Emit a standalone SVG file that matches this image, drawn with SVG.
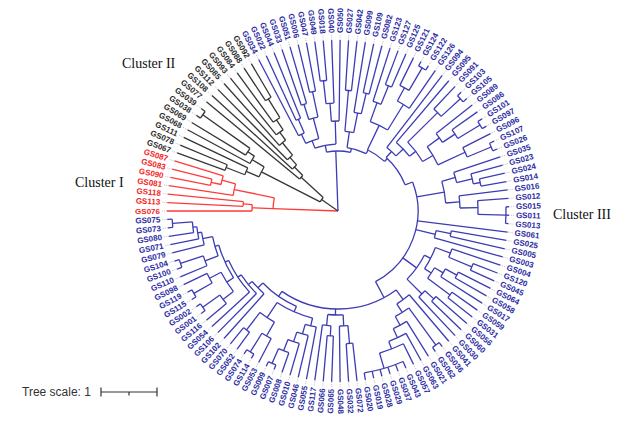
<svg xmlns="http://www.w3.org/2000/svg" width="628" height="422" viewBox="0 0 628 422">
<style>
#connectors line,#connectors circle{fill:none;stroke-width:1.3}
.cr{stroke:#ff3a3a}.ck{stroke:#363636}.cb{stroke:#3c3cb4}
#leaves text{font-family:"Liberation Sans",Arial,sans-serif;font-size:8px;font-weight:bold;dominant-baseline:central}
#leaves line{stroke:#b8b8b8;stroke-width:0.8;stroke-dasharray:1 1}
.r text{fill:#f52424}.k text{fill:#2b2b2b}.b text{fill:#2c2ca2}
.L text{text-anchor:end}
.cl{font-family:"Liberation Serif","Times New Roman",serif;font-size:14px;fill:#111}
</style>
<rect width="628" height="422" fill="#fff"/>
<g transform="translate(338,211)">
<g id="connectors">
<g class="cr">
<line x2="65" transform="rotate(182.13)"/>
<circle r="65" pathLength="127" stroke-dasharray="3.375 300" transform="rotate(182.13)"/>
<line x1="65" x2="86" transform="rotate(182.13)"/>
<circle r="86" pathLength="127" stroke-dasharray="1.5 300" transform="rotate(180)"/>
<line x1="86" x2="95" transform="rotate(184.25)"/>
<circle r="95" pathLength="127" stroke-dasharray="1 300" transform="rotate(182.83)"/>
<line x1="65" x2="106" transform="rotate(191.69)"/>
<circle r="106" pathLength="127" stroke-dasharray="2.25 300" transform="rotate(188.5)"/>
<line x1="106" x2="120" transform="rotate(194.88)"/>
<circle r="120" pathLength="127" stroke-dasharray="1.5 300" transform="rotate(192.76)"/>
<line x1="120" x2="130" transform="rotate(192.76)"/>
<circle r="130" pathLength="127" stroke-dasharray="1 300" transform="rotate(191.34)"/>
<line x1="86" x2="171" transform="rotate(180)"/>
<line x1="95" x2="171" transform="rotate(182.83)"/>
<line x1="95" x2="171" transform="rotate(185.67)"/>
<line x1="106" x2="171" transform="rotate(188.5)"/>
<line x1="130" x2="171" transform="rotate(191.34)"/>
<line x1="130" x2="171" transform="rotate(194.17)"/>
<line x1="120" x2="171" transform="rotate(197.01)"/>
</g>
<g class="ck">
<line x2="20" transform="rotate(214.81)"/>
<circle r="20" pathLength="127" stroke-dasharray="5.43 300" transform="rotate(207.11)"/>
<line x1="20" x2="50" transform="rotate(222.5)"/>
<circle r="50" pathLength="127" stroke-dasharray="1.985 300" transform="rotate(219.69)"/>
<line x1="50" x2="62" transform="rotate(225.31)"/>
<circle r="62" pathLength="127" stroke-dasharray="1.97 300" transform="rotate(222.52)"/>
<line x1="62" x2="72" transform="rotate(228.1)"/>
<circle r="72" pathLength="127" stroke-dasharray="1.94 300" transform="rotate(225.35)"/>
<line x1="72" x2="88" transform="rotate(230.85)"/>
<circle r="88" pathLength="127" stroke-dasharray="1.875 300" transform="rotate(228.19)"/>
<line x1="88" x2="98" transform="rotate(233.5)"/>
<circle r="98" pathLength="127" stroke-dasharray="1.75 300" transform="rotate(231.02)"/>
<line x1="98" x2="110" transform="rotate(235.98)"/>
<circle r="110" pathLength="127" stroke-dasharray="1.5 300" transform="rotate(233.86)"/>
<line x1="110" x2="132" transform="rotate(238.11)"/>
<circle r="132" pathLength="127" stroke-dasharray="1 300" transform="rotate(236.69)"/>
<line x1="20" x2="86" transform="rotate(207.11)"/>
<circle r="86" pathLength="127" stroke-dasharray="2.625 300" transform="rotate(203.39)"/>
<line x1="86" x2="100" transform="rotate(203.39)"/>
<circle r="100" pathLength="127" stroke-dasharray="1.5 300" transform="rotate(201.26)"/>
<line x1="100" x2="120" transform="rotate(201.26)"/>
<circle r="120" pathLength="127" stroke-dasharray="1 300" transform="rotate(199.84)"/>
<line x1="86" x2="100" transform="rotate(210.83)"/>
<circle r="100" pathLength="127" stroke-dasharray="1.75 300" transform="rotate(208.35)"/>
<line x1="100" x2="108" transform="rotate(213.31)"/>
<circle r="108" pathLength="127" stroke-dasharray="1.5 300" transform="rotate(211.18)"/>
<line x1="108" x2="166" transform="rotate(215.43)"/>
<circle r="166" pathLength="127" stroke-dasharray="1 300" transform="rotate(214.02)"/>
<line x1="120" x2="171" transform="rotate(199.84)"/>
<line x1="120" x2="171" transform="rotate(202.68)"/>
<line x1="100" x2="171" transform="rotate(205.51)"/>
<line x1="100" x2="171" transform="rotate(208.35)"/>
<line x1="108" x2="171" transform="rotate(211.18)"/>
<line x1="166" x2="171" transform="rotate(214.02)"/>
<line x1="166" x2="171" transform="rotate(216.85)"/>
<line x1="50" x2="171" transform="rotate(219.69)"/>
<line x1="62" x2="171" transform="rotate(222.52)"/>
<line x1="72" x2="171" transform="rotate(225.35)"/>
<line x1="88" x2="171" transform="rotate(228.19)"/>
<line x1="98" x2="171" transform="rotate(231.02)"/>
<line x1="110" x2="171" transform="rotate(233.86)"/>
<line x1="132" x2="171" transform="rotate(236.69)"/>
<line x1="132" x2="171" transform="rotate(239.53)"/>
</g>
<g class="cb">
<line x2="60" transform="rotate(267.87)"/>
<circle r="60" pathLength="127" stroke-dasharray="8.125 300" transform="rotate(259.02)"/>
<line x1="60" x2="67" transform="rotate(259.02)"/>
<circle r="67" pathLength="127" stroke-dasharray="6.5 300" transform="rotate(249.8)"/>
<line x1="67" x2="75" transform="rotate(249.8)"/>
<circle r="75" pathLength="127" stroke-dasharray="3.75 300" transform="rotate(244.49)"/>
<line x1="75" x2="85" transform="rotate(244.49)"/>
<circle r="85" pathLength="127" stroke-dasharray="1.5 300" transform="rotate(242.36)"/>
<line x1="85" x2="100" transform="rotate(246.61)"/>
<circle r="100" pathLength="127" stroke-dasharray="1 300" transform="rotate(245.2)"/>
<line x1="75" x2="96" transform="rotate(255.12)"/>
<circle r="96" pathLength="127" stroke-dasharray="2 300" transform="rotate(252.28)"/>
<line x1="96" x2="112" transform="rotate(252.28)"/>
<circle r="112" pathLength="127" stroke-dasharray="1 300" transform="rotate(250.87)"/>
<line x1="96" x2="122" transform="rotate(257.95)"/>
<circle r="122" pathLength="127" stroke-dasharray="1 300" transform="rotate(256.54)"/>
<line x1="67" x2="90" transform="rotate(268.23)"/>
<circle r="90" pathLength="127" stroke-dasharray="1.75 300" transform="rotate(265.75)"/>
<line x1="90" x2="108" transform="rotate(265.75)"/>
<circle r="108" pathLength="127" stroke-dasharray="1.5 300" transform="rotate(263.62)"/>
<line x1="108" x2="131" transform="rotate(263.62)"/>
<circle r="131" pathLength="127" stroke-dasharray="1 300" transform="rotate(262.2)"/>
<line x1="60" x2="64" transform="rotate(282.05)"/>
<circle r="64" pathLength="127" stroke-dasharray="6.375 300" transform="rotate(278.15)"/>
<line x1="64" x2="80" transform="rotate(278.15)"/>
<circle r="80" pathLength="127" stroke-dasharray="2.25 300" transform="rotate(274.96)"/>
<line x1="80" x2="121" transform="rotate(274.96)"/>
<circle r="121" pathLength="127" stroke-dasharray="1 300" transform="rotate(273.54)"/>
<line x1="80" x2="100" transform="rotate(281.34)"/>
<circle r="100" pathLength="127" stroke-dasharray="1.5 300" transform="rotate(279.21)"/>
<line x1="100" x2="121" transform="rotate(283.46)"/>
<circle r="121" pathLength="127" stroke-dasharray="1 300" transform="rotate(282.05)"/>
<line x1="64" x2="68" transform="rotate(296.22)"/>
<circle r="68" pathLength="127" stroke-dasharray="6.1875 300" transform="rotate(295.69)"/>
<line x1="68" x2="95" transform="rotate(295.69)"/>
<circle r="95" pathLength="127" stroke-dasharray="4.125 300" transform="rotate(289.84)"/>
<line x1="95" x2="115" transform="rotate(289.84)"/>
<circle r="115" pathLength="127" stroke-dasharray="1.5 300" transform="rotate(287.72)"/>
<line x1="115" x2="135" transform="rotate(291.97)"/>
<circle r="135" pathLength="127" stroke-dasharray="1 300" transform="rotate(290.55)"/>
<line x1="95" x2="125" transform="rotate(301.54)"/>
<circle r="125" pathLength="127" stroke-dasharray="2.25 300" transform="rotate(298.35)"/>
<line x1="125" x2="140" transform="rotate(298.35)"/>
<circle r="140" pathLength="127" stroke-dasharray="1.5 300" transform="rotate(296.22)"/>
<line x1="140" x2="166" transform="rotate(300.47)"/>
<circle r="166" pathLength="127" stroke-dasharray="1 300" transform="rotate(299.06)"/>
<line x1="68" x2="72" transform="rotate(313.23)"/>
<circle r="72" pathLength="127" stroke-dasharray="9.43 300" transform="rotate(312.01)"/>
<line x1="72" x2="80" transform="rotate(312.01)"/>
<circle r="80" pathLength="127" stroke-dasharray="3.14 300" transform="rotate(307.56)"/>
<line x1="80" x2="90" transform="rotate(316.46)"/>
<circle r="90" pathLength="127" stroke-dasharray="4.28 300" transform="rotate(310.39)"/>
<line x1="90" x2="98" transform="rotate(322.53)"/>
<circle r="98" pathLength="127" stroke-dasharray="5.0625 300" transform="rotate(315.35)"/>
<line x1="98" x2="140" transform="rotate(315.35)"/>
<circle r="140" pathLength="127" stroke-dasharray="1.5 300" transform="rotate(313.23)"/>
<line x1="140" x2="166" transform="rotate(317.48)"/>
<circle r="166" pathLength="127" stroke-dasharray="1 300" transform="rotate(316.06)"/>
<line x1="98" x2="110" transform="rotate(329.7)"/>
<circle r="110" pathLength="127" stroke-dasharray="3.875 300" transform="rotate(324.21)"/>
<line x1="110" x2="125" transform="rotate(324.21)"/>
<circle r="125" pathLength="127" stroke-dasharray="1.75 300" transform="rotate(321.73)"/>
<line x1="125" x2="140" transform="rotate(326.69)"/>
<circle r="140" pathLength="127" stroke-dasharray="1.5 300" transform="rotate(324.57)"/>
<line x1="140" x2="166" transform="rotate(328.82)"/>
<circle r="166" pathLength="127" stroke-dasharray="1 300" transform="rotate(327.4)"/>
<line x1="110" x2="140" transform="rotate(335.2)"/>
<circle r="140" pathLength="127" stroke-dasharray="1.5 300" transform="rotate(333.07)"/>
<line x1="140" x2="166" transform="rotate(337.32)"/>
<circle r="166" pathLength="127" stroke-dasharray="1 300" transform="rotate(335.91)"/>
<line x1="72" x2="80" transform="rotate(338.74)"/>
<circle r="80" pathLength="127" stroke-dasharray="29.37 300" transform="rotate(338.74)"/>
<line x1="80" x2="108" transform="rotate(349.9)"/>
<circle r="108" pathLength="127" stroke-dasharray="4.125 300" transform="rotate(344.05)"/>
<line x1="108" x2="122" transform="rotate(344.05)"/>
<circle r="122" pathLength="127" stroke-dasharray="1.75 300" transform="rotate(341.57)"/>
<line x1="122" x2="138" transform="rotate(346.53)"/>
<circle r="138" pathLength="127" stroke-dasharray="1.5 300" transform="rotate(344.41)"/>
<line x1="138" x2="145" transform="rotate(348.66)"/>
<circle r="145" pathLength="127" stroke-dasharray="1 300" transform="rotate(347.24)"/>
<line x1="108" x2="122" transform="rotate(355.75)"/>
<circle r="122" pathLength="127" stroke-dasharray="2 300" transform="rotate(352.91)"/>
<line x1="122" x2="140" transform="rotate(358.58)"/>
<circle r="140" pathLength="127" stroke-dasharray="2 300" transform="rotate(355.75)"/>
<line x1="140" x2="168" transform="rotate(361.42)"/>
<circle r="168" pathLength="127" stroke-dasharray="2 300" transform="rotate(358.58)"/>
<line x1="80" x2="100" transform="rotate(373.46)"/>
<circle r="100" pathLength="127" stroke-dasharray="1.5 300" transform="rotate(371.34)"/>
<line x1="100" x2="115" transform="rotate(371.34)"/>
<circle r="115" pathLength="127" stroke-dasharray="1 300" transform="rotate(369.92)"/>
<line x1="80" x2="97" transform="rotate(395.88)"/>
<circle r="97" pathLength="127" stroke-dasharray="6.19 300" transform="rotate(387.1)"/>
<line x1="97" x2="104" transform="rotate(387.1)"/>
<circle r="104" pathLength="127" stroke-dasharray="4.625 300" transform="rotate(380.55)"/>
<line x1="104" x2="120" transform="rotate(380.55)"/>
<circle r="120" pathLength="127" stroke-dasharray="1.5 300" transform="rotate(378.43)"/>
<line x1="120" x2="145" transform="rotate(382.68)"/>
<circle r="145" pathLength="127" stroke-dasharray="1 300" transform="rotate(381.26)"/>
<line x1="104" x2="112" transform="rotate(393.66)"/>
<circle r="112" pathLength="127" stroke-dasharray="2.25 300" transform="rotate(390.47)"/>
<line x1="112" x2="122" transform="rotate(390.47)"/>
<circle r="122" pathLength="127" stroke-dasharray="1.5 300" transform="rotate(388.35)"/>
<line x1="122" x2="135" transform="rotate(388.35)"/>
<circle r="135" pathLength="127" stroke-dasharray="1 300" transform="rotate(386.93)"/>
<line x1="112" x2="140" transform="rotate(396.85)"/>
<circle r="140" pathLength="127" stroke-dasharray="1 300" transform="rotate(395.43)"/>
<line x1="97" x2="118" transform="rotate(404.64)"/>
<circle r="118" pathLength="127" stroke-dasharray="1.5 300" transform="rotate(402.52)"/>
<line x1="118" x2="130" transform="rotate(402.52)"/>
<circle r="130" pathLength="127" stroke-dasharray="1 300" transform="rotate(401.1)"/>
<line x1="80" x2="98" transform="rotate(422)"/>
<circle r="98" pathLength="127" stroke-dasharray="25.13 300" transform="rotate(413.63)"/>
<line x1="98" x2="110" transform="rotate(413.63)"/>
<circle r="110" pathLength="127" stroke-dasharray="2.84 300" transform="rotate(409.61)"/>
<line x1="110" x2="120" transform="rotate(417.66)"/>
<circle r="120" pathLength="127" stroke-dasharray="2.69 300" transform="rotate(413.86)"/>
<line x1="120" x2="166" transform="rotate(413.86)"/>
<circle r="166" pathLength="127" stroke-dasharray="1 300" transform="rotate(412.44)"/>
<line x1="120" x2="130" transform="rotate(421.48)"/>
<circle r="130" pathLength="127" stroke-dasharray="2.375 300" transform="rotate(418.11)"/>
<line x1="130" x2="140" transform="rotate(424.84)"/>
<circle r="140" pathLength="127" stroke-dasharray="2.75 300" transform="rotate(420.94)"/>
<line x1="140" x2="148" transform="rotate(428.74)"/>
<circle r="148" pathLength="127" stroke-dasharray="3.5 300" transform="rotate(423.78)"/>
<line x1="148" x2="164" transform="rotate(433.7)"/>
<circle r="164" pathLength="127" stroke-dasharray="5 300" transform="rotate(426.61)"/>
<line x1="98" x2="104" transform="rotate(451.42)"/>
<circle r="104" pathLength="127" stroke-dasharray="3 300" transform="rotate(447.16)"/>
<line x1="104" x2="115" transform="rotate(447.16)"/>
<circle r="115" pathLength="127" stroke-dasharray="1.5 300" transform="rotate(445.04)"/>
<line x1="115" x2="133" transform="rotate(445.04)"/>
<circle r="133" pathLength="127" stroke-dasharray="1 300" transform="rotate(443.62)"/>
<line x1="104" x2="115" transform="rotate(455.67)"/>
<circle r="115" pathLength="127" stroke-dasharray="1.5 300" transform="rotate(453.54)"/>
<line x1="115" x2="125" transform="rotate(453.54)"/>
<circle r="125" pathLength="127" stroke-dasharray="1 300" transform="rotate(452.13)"/>
<line x1="98" x2="104" transform="rotate(484.87)"/>
<circle r="104" pathLength="127" stroke-dasharray="8 300" transform="rotate(473.53)"/>
<line x1="104" x2="110" transform="rotate(473.53)"/>
<circle r="110" pathLength="127" stroke-dasharray="7.155 300" transform="rotate(463.38)"/>
<line x1="110" x2="118" transform="rotate(463.38)"/>
<circle r="118" pathLength="127" stroke-dasharray="1.94 300" transform="rotate(460.63)"/>
<line x1="118" x2="128" transform="rotate(466.13)"/>
<circle r="128" pathLength="127" stroke-dasharray="1.875 300" transform="rotate(463.46)"/>
<line x1="128" x2="138" transform="rotate(468.78)"/>
<circle r="138" pathLength="127" stroke-dasharray="1.75 300" transform="rotate(466.3)"/>
<line x1="138" x2="150" transform="rotate(471.26)"/>
<circle r="150" pathLength="127" stroke-dasharray="1.5 300" transform="rotate(469.13)"/>
<line x1="150" x2="166" transform="rotate(473.39)"/>
<circle r="166" pathLength="127" stroke-dasharray="1 300" transform="rotate(471.97)"/>
<line x1="110" x2="128" transform="rotate(483.66)"/>
<circle r="128" pathLength="127" stroke-dasharray="2.75 300" transform="rotate(479.77)"/>
<line x1="128" x2="144" transform="rotate(479.77)"/>
<circle r="144" pathLength="127" stroke-dasharray="1.5 300" transform="rotate(477.64)"/>
<line x1="144" x2="166" transform="rotate(481.89)"/>
<circle r="166" pathLength="127" stroke-dasharray="1 300" transform="rotate(480.47)"/>
<line x1="128" x2="150" transform="rotate(487.56)"/>
<circle r="150" pathLength="127" stroke-dasharray="1 300" transform="rotate(486.14)"/>
<line x1="104" x2="111" transform="rotate(496.21)"/>
<circle r="111" pathLength="127" stroke-dasharray="3.105 300" transform="rotate(491.81)"/>
<line x1="111" x2="116" transform="rotate(500.61)"/>
<circle r="116" pathLength="127" stroke-dasharray="4.21 300" transform="rotate(494.65)"/>
<line x1="116" x2="120" transform="rotate(506.58)"/>
<circle r="120" pathLength="127" stroke-dasharray="6.42 300" transform="rotate(497.48)"/>
<line x1="120" x2="124" transform="rotate(515.68)"/>
<circle r="124" pathLength="127" stroke-dasharray="5.845 300" transform="rotate(507.4)"/>
<line x1="124" x2="132" transform="rotate(507.4)"/>
<circle r="132" pathLength="127" stroke-dasharray="3.5 300" transform="rotate(502.44)"/>
<line x1="132" x2="145" transform="rotate(502.44)"/>
<circle r="145" pathLength="127" stroke-dasharray="1.5 300" transform="rotate(500.31)"/>
<line x1="145" x2="166" transform="rotate(504.57)"/>
<circle r="166" pathLength="127" stroke-dasharray="1 300" transform="rotate(503.15)"/>
<line x1="132" x2="145" transform="rotate(512.36)"/>
<circle r="145" pathLength="127" stroke-dasharray="1.5 300" transform="rotate(510.24)"/>
<line x1="145" x2="166" transform="rotate(510.24)"/>
<circle r="166" pathLength="127" stroke-dasharray="1 300" transform="rotate(508.82)"/>
<line x1="124" x2="128" transform="rotate(523.97)"/>
<circle r="128" pathLength="127" stroke-dasharray="3.19 300" transform="rotate(519.45)"/>
<line x1="128" x2="142" transform="rotate(519.45)"/>
<circle r="142" pathLength="127" stroke-dasharray="1.5 300" transform="rotate(517.32)"/>
<line x1="142" x2="166" transform="rotate(521.58)"/>
<circle r="166" pathLength="127" stroke-dasharray="1 300" transform="rotate(520.16)"/>
<line x1="128" x2="138" transform="rotate(528.49)"/>
<circle r="138" pathLength="127" stroke-dasharray="1.875 300" transform="rotate(525.83)"/>
<line x1="138" x2="142" transform="rotate(531.14)"/>
<circle r="142" pathLength="127" stroke-dasharray="1.75 300" transform="rotate(528.66)"/>
<line x1="142" x2="146" transform="rotate(533.62)"/>
<circle r="146" pathLength="127" stroke-dasharray="1.5 300" transform="rotate(531.5)"/>
<line x1="146" x2="166" transform="rotate(535.75)"/>
<circle r="166" pathLength="127" stroke-dasharray="1 300" transform="rotate(534.33)"/>
<line x1="85" x2="171" transform="rotate(242.36)"/>
<line x1="100" x2="171" transform="rotate(245.2)"/>
<line x1="100" x2="171" transform="rotate(248.03)"/>
<line x1="112" x2="171" transform="rotate(250.87)"/>
<line x1="112" x2="171" transform="rotate(253.7)"/>
<line x1="122" x2="171" transform="rotate(256.54)"/>
<line x1="122" x2="171" transform="rotate(259.37)"/>
<line x1="131" x2="171" transform="rotate(262.2)"/>
<line x1="131" x2="171" transform="rotate(265.04)"/>
<line x1="108" x2="171" transform="rotate(267.87)"/>
<line x1="90" x2="171" transform="rotate(270.71)"/>
<line x1="121" x2="171" transform="rotate(273.54)"/>
<line x1="121" x2="171" transform="rotate(276.38)"/>
<line x1="100" x2="171" transform="rotate(279.21)"/>
<line x1="121" x2="171" transform="rotate(282.05)"/>
<line x1="121" x2="171" transform="rotate(284.88)"/>
<line x1="115" x2="171" transform="rotate(287.72)"/>
<line x1="135" x2="171" transform="rotate(290.55)"/>
<line x1="135" x2="171" transform="rotate(293.39)"/>
<line x1="140" x2="171" transform="rotate(296.22)"/>
<line x1="166" x2="171" transform="rotate(299.06)"/>
<line x1="166" x2="171" transform="rotate(301.89)"/>
<line x1="125" x2="171" transform="rotate(304.72)"/>
<line x1="80" x2="171" transform="rotate(307.56)"/>
<line x1="90" x2="171" transform="rotate(310.39)"/>
<line x1="140" x2="171" transform="rotate(313.23)"/>
<line x1="166" x2="171" transform="rotate(316.06)"/>
<line x1="166" x2="171" transform="rotate(318.9)"/>
<line x1="125" x2="171" transform="rotate(321.73)"/>
<line x1="140" x2="171" transform="rotate(324.57)"/>
<line x1="166" x2="171" transform="rotate(327.4)"/>
<line x1="166" x2="171" transform="rotate(330.24)"/>
<line x1="140" x2="171" transform="rotate(333.07)"/>
<line x1="166" x2="171" transform="rotate(335.91)"/>
<line x1="166" x2="171" transform="rotate(338.74)"/>
<line x1="122" x2="171" transform="rotate(341.57)"/>
<line x1="138" x2="171" transform="rotate(344.41)"/>
<line x1="145" x2="171" transform="rotate(347.24)"/>
<line x1="145" x2="171" transform="rotate(350.08)"/>
<line x1="122" x2="171" transform="rotate(352.91)"/>
<line x1="140" x2="171" transform="rotate(355.75)"/>
<line x1="168" x2="171" transform="rotate(358.58)"/>
<line x1="168" x2="171" transform="rotate(361.42)"/>
<line x1="168" x2="171" transform="rotate(364.25)"/>
<line x1="80" x2="171" transform="rotate(367.09)"/>
<line x1="115" x2="171" transform="rotate(369.92)"/>
<line x1="115" x2="171" transform="rotate(372.76)"/>
<line x1="100" x2="171" transform="rotate(375.59)"/>
<line x1="120" x2="171" transform="rotate(378.43)"/>
<line x1="145" x2="171" transform="rotate(381.26)"/>
<line x1="145" x2="171" transform="rotate(384.09)"/>
<line x1="135" x2="171" transform="rotate(386.93)"/>
<line x1="135" x2="171" transform="rotate(389.76)"/>
<line x1="122" x2="171" transform="rotate(392.6)"/>
<line x1="140" x2="171" transform="rotate(395.43)"/>
<line x1="140" x2="171" transform="rotate(398.27)"/>
<line x1="130" x2="171" transform="rotate(401.1)"/>
<line x1="130" x2="171" transform="rotate(403.94)"/>
<line x1="118" x2="171" transform="rotate(406.77)"/>
<line x1="110" x2="171" transform="rotate(409.61)"/>
<line x1="166" x2="171" transform="rotate(412.44)"/>
<line x1="166" x2="171" transform="rotate(415.28)"/>
<line x1="130" x2="171" transform="rotate(418.11)"/>
<line x1="140" x2="171" transform="rotate(420.94)"/>
<line x1="148" x2="171" transform="rotate(423.78)"/>
<line x1="164" x2="171" transform="rotate(426.61)"/>
<line x1="164" x2="171" transform="rotate(429.45)"/>
<line x1="164" x2="171" transform="rotate(432.28)"/>
<line x1="164" x2="171" transform="rotate(435.12)"/>
<line x1="164" x2="171" transform="rotate(437.95)"/>
<line x1="164" x2="171" transform="rotate(440.79)"/>
<line x1="133" x2="171" transform="rotate(443.62)"/>
<line x1="133" x2="171" transform="rotate(446.46)"/>
<line x1="115" x2="171" transform="rotate(449.29)"/>
<line x1="125" x2="171" transform="rotate(452.13)"/>
<line x1="125" x2="171" transform="rotate(454.96)"/>
<line x1="115" x2="171" transform="rotate(457.8)"/>
<line x1="118" x2="171" transform="rotate(460.63)"/>
<line x1="128" x2="171" transform="rotate(463.46)"/>
<line x1="138" x2="171" transform="rotate(466.3)"/>
<line x1="150" x2="171" transform="rotate(469.13)"/>
<line x1="166" x2="171" transform="rotate(471.97)"/>
<line x1="166" x2="171" transform="rotate(474.8)"/>
<line x1="144" x2="171" transform="rotate(477.64)"/>
<line x1="166" x2="171" transform="rotate(480.47)"/>
<line x1="166" x2="171" transform="rotate(483.31)"/>
<line x1="150" x2="171" transform="rotate(486.14)"/>
<line x1="150" x2="171" transform="rotate(488.98)"/>
<line x1="111" x2="171" transform="rotate(491.81)"/>
<line x1="116" x2="171" transform="rotate(494.65)"/>
<line x1="120" x2="171" transform="rotate(497.48)"/>
<line x1="145" x2="171" transform="rotate(500.31)"/>
<line x1="166" x2="171" transform="rotate(503.15)"/>
<line x1="166" x2="171" transform="rotate(505.98)"/>
<line x1="166" x2="171" transform="rotate(508.82)"/>
<line x1="166" x2="171" transform="rotate(511.65)"/>
<line x1="145" x2="171" transform="rotate(514.49)"/>
<line x1="142" x2="171" transform="rotate(517.32)"/>
<line x1="166" x2="171" transform="rotate(520.16)"/>
<line x1="166" x2="171" transform="rotate(522.99)"/>
<line x1="138" x2="171" transform="rotate(525.83)"/>
<line x1="142" x2="171" transform="rotate(528.66)"/>
<line x1="146" x2="171" transform="rotate(531.5)"/>
<line x1="166" x2="171" transform="rotate(534.33)"/>
<line x1="166" x2="171" transform="rotate(537.17)"/>
</g>
</g>
<g id="leaves">
<g class="r L">
<g id="GS076" transform="rotate(180)"><line x1="171" x2="177"/><text transform="rotate(180)" x="-178">GS076</text></g>
<g id="GS113" transform="rotate(182.83)"><line x1="171" x2="177"/><text transform="rotate(180)" x="-178">GS113</text></g>
<g id="GS118" transform="rotate(185.67)"><line x1="171" x2="177"/><text transform="rotate(180)" x="-178">GS118</text></g>
<g id="GS081" transform="rotate(188.5)"><line x1="171" x2="177"/><text transform="rotate(180)" x="-178">GS081</text></g>
<g id="GS090" transform="rotate(191.34)"><line x1="171" x2="177"/><text transform="rotate(180)" x="-178">GS090</text></g>
<g id="GS083" transform="rotate(194.17)"><line x1="171" x2="177"/><text transform="rotate(180)" x="-178">GS083</text></g>
<g id="GS087" transform="rotate(197.01)"><line x1="171" x2="177"/><text transform="rotate(180)" x="-178">GS087</text></g>
</g>
<g class="k L">
<g id="GS067" transform="rotate(199.84)"><line x1="171" x2="177"/><text transform="rotate(180)" x="-178">GS067</text></g>
<g id="GS078" transform="rotate(202.68)"><line x1="171" x2="177"/><text transform="rotate(180)" x="-178">GS078</text></g>
<g id="GS111" transform="rotate(205.51)"><line x1="171" x2="177"/><text transform="rotate(180)" x="-178">GS111</text></g>
<g id="GS068" transform="rotate(208.35)"><line x1="171" x2="177"/><text transform="rotate(180)" x="-178">GS068</text></g>
<g id="GS069" transform="rotate(211.18)"><line x1="171" x2="177"/><text transform="rotate(180)" x="-178">GS069</text></g>
<g id="GS038" transform="rotate(214.02)"><line x1="171" x2="177"/><text transform="rotate(180)" x="-178">GS038</text></g>
<g id="GS039" transform="rotate(216.85)"><line x1="171" x2="177"/><text transform="rotate(180)" x="-178">GS039</text></g>
<g id="GS077" transform="rotate(219.69)"><line x1="171" x2="177"/><text transform="rotate(180)" x="-178">GS077</text></g>
<g id="GS108" transform="rotate(222.52)"><line x1="171" x2="177"/><text transform="rotate(180)" x="-178">GS108</text></g>
<g id="GS112" transform="rotate(225.35)"><line x1="171" x2="177"/><text transform="rotate(180)" x="-178">GS112</text></g>
<g id="GS085" transform="rotate(228.19)"><line x1="171" x2="177"/><text transform="rotate(180)" x="-178">GS085</text></g>
<g id="GS093" transform="rotate(231.02)"><line x1="171" x2="177"/><text transform="rotate(180)" x="-178">GS093</text></g>
<g id="GS084" transform="rotate(233.86)"><line x1="171" x2="177"/><text transform="rotate(180)" x="-178">GS084</text></g>
<g id="GS088" transform="rotate(236.69)"><line x1="171" x2="177"/><text transform="rotate(180)" x="-178">GS088</text></g>
<g id="GS092" transform="rotate(239.53)"><line x1="171" x2="177"/><text transform="rotate(180)" x="-178">GS092</text></g>
</g>
<g class="b L">
<g id="GS034" transform="rotate(242.36)"><line x1="171" x2="177"/><text transform="rotate(180)" x="-178">GS034</text></g>
<g id="GS022" transform="rotate(245.2)"><line x1="171" x2="177"/><text transform="rotate(180)" x="-178">GS022</text></g>
<g id="GS044" transform="rotate(248.03)"><line x1="171" x2="177"/><text transform="rotate(180)" x="-178">GS044</text></g>
<g id="GS033" transform="rotate(250.87)"><line x1="171" x2="177"/><text transform="rotate(180)" x="-178">GS033</text></g>
<g id="GS051" transform="rotate(253.7)"><line x1="171" x2="177"/><text transform="rotate(180)" x="-178">GS051</text></g>
<g id="GS006" transform="rotate(256.54)"><line x1="171" x2="177"/><text transform="rotate(180)" x="-178">GS006</text></g>
<g id="GS047" transform="rotate(259.37)"><line x1="171" x2="177"/><text transform="rotate(180)" x="-178">GS047</text></g>
<g id="GS049" transform="rotate(262.2)"><line x1="171" x2="177"/><text transform="rotate(180)" x="-178">GS049</text></g>
<g id="GS018" transform="rotate(265.04)"><line x1="171" x2="177"/><text transform="rotate(180)" x="-178">GS018</text></g>
<g id="GS040" transform="rotate(267.87)"><line x1="171" x2="177"/><text transform="rotate(180)" x="-178">GS040</text></g>
</g>
<g class="b">
<g id="GS050" transform="rotate(270.71)"><line x1="171" x2="177"/><text x="178">GS050</text></g>
<g id="GS027" transform="rotate(273.54)"><line x1="171" x2="177"/><text x="178">GS027</text></g>
<g id="GS042" transform="rotate(276.38)"><line x1="171" x2="177"/><text x="178">GS042</text></g>
<g id="GS099" transform="rotate(279.21)"><line x1="171" x2="177"/><text x="178">GS099</text></g>
<g id="GS109" transform="rotate(282.05)"><line x1="171" x2="177"/><text x="178">GS109</text></g>
<g id="GS082" transform="rotate(284.88)"><line x1="171" x2="177"/><text x="178">GS082</text></g>
<g id="GS123" transform="rotate(287.72)"><line x1="171" x2="177"/><text x="178">GS123</text></g>
<g id="GS127" transform="rotate(290.55)"><line x1="171" x2="177"/><text x="178">GS127</text></g>
<g id="GS125" transform="rotate(293.39)"><line x1="171" x2="177"/><text x="178">GS125</text></g>
<g id="GS121" transform="rotate(296.22)"><line x1="171" x2="177"/><text x="178">GS121</text></g>
<g id="GS124" transform="rotate(299.06)"><line x1="171" x2="177"/><text x="178">GS124</text></g>
<g id="GS122" transform="rotate(301.89)"><line x1="171" x2="177"/><text x="178">GS122</text></g>
<g id="GS126" transform="rotate(304.72)"><line x1="171" x2="177"/><text x="178">GS126</text></g>
<g id="GS094" transform="rotate(307.56)"><line x1="171" x2="177"/><text x="178">GS094</text></g>
<g id="GS095" transform="rotate(310.39)"><line x1="171" x2="177"/><text x="178">GS095</text></g>
<g id="GS091" transform="rotate(313.23)"><line x1="171" x2="177"/><text x="178">GS091</text></g>
<g id="GS103" transform="rotate(316.06)"><line x1="171" x2="177"/><text x="178">GS103</text></g>
<g id="GS105" transform="rotate(318.9)"><line x1="171" x2="177"/><text x="178">GS105</text></g>
<g id="GS089" transform="rotate(321.73)"><line x1="171" x2="177"/><text x="178">GS089</text></g>
<g id="GS086" transform="rotate(324.57)"><line x1="171" x2="177"/><text x="178">GS086</text></g>
<g id="GS101" transform="rotate(327.4)"><line x1="171" x2="177"/><text x="178">GS101</text></g>
<g id="GS097" transform="rotate(330.24)"><line x1="171" x2="177"/><text x="178">GS097</text></g>
<g id="GS096" transform="rotate(333.07)"><line x1="171" x2="177"/><text x="178">GS096</text></g>
<g id="GS107" transform="rotate(335.91)"><line x1="171" x2="177"/><text x="178">GS107</text></g>
<g id="GS026" transform="rotate(338.74)"><line x1="171" x2="177"/><text x="178">GS026</text></g>
<g id="GS035" transform="rotate(341.57)"><line x1="171" x2="177"/><text x="178">GS035</text></g>
<g id="GS023" transform="rotate(344.41)"><line x1="171" x2="177"/><text x="178">GS023</text></g>
<g id="GS024" transform="rotate(347.24)"><line x1="171" x2="177"/><text x="178">GS024</text></g>
<g id="GS014" transform="rotate(350.08)"><line x1="171" x2="177"/><text x="178">GS014</text></g>
<g id="GS016" transform="rotate(352.91)"><line x1="171" x2="177"/><text x="178">GS016</text></g>
<g id="GS012" transform="rotate(355.75)"><line x1="171" x2="177"/><text x="178">GS012</text></g>
<g id="GS015" transform="rotate(358.58)"><line x1="171" x2="177"/><text x="178">GS015</text></g>
<g id="GS011" transform="rotate(361.42)"><line x1="171" x2="177"/><text x="178">GS011</text></g>
<g id="GS013" transform="rotate(364.25)"><line x1="171" x2="177"/><text x="178">GS013</text></g>
<g id="GS061" transform="rotate(367.09)"><line x1="171" x2="177"/><text x="178">GS061</text></g>
<g id="GS025" transform="rotate(369.92)"><line x1="171" x2="177"/><text x="178">GS025</text></g>
<g id="GS005" transform="rotate(372.76)"><line x1="171" x2="177"/><text x="178">GS005</text></g>
<g id="GS003" transform="rotate(375.59)"><line x1="171" x2="177"/><text x="178">GS003</text></g>
<g id="GS004" transform="rotate(378.43)"><line x1="171" x2="177"/><text x="178">GS004</text></g>
<g id="GS120" transform="rotate(381.26)"><line x1="171" x2="177"/><text x="178">GS120</text></g>
<g id="GS045" transform="rotate(384.09)"><line x1="171" x2="177"/><text x="178">GS045</text></g>
<g id="GS064" transform="rotate(386.93)"><line x1="171" x2="177"/><text x="178">GS064</text></g>
<g id="GS058" transform="rotate(389.76)"><line x1="171" x2="177"/><text x="178">GS058</text></g>
<g id="GS017" transform="rotate(392.6)"><line x1="171" x2="177"/><text x="178">GS017</text></g>
<g id="GS059" transform="rotate(395.43)"><line x1="171" x2="177"/><text x="178">GS059</text></g>
<g id="GS031" transform="rotate(398.27)"><line x1="171" x2="177"/><text x="178">GS031</text></g>
<g id="GS056" transform="rotate(401.1)"><line x1="171" x2="177"/><text x="178">GS056</text></g>
<g id="GS060" transform="rotate(403.94)"><line x1="171" x2="177"/><text x="178">GS060</text></g>
<g id="GS030" transform="rotate(406.77)"><line x1="171" x2="177"/><text x="178">GS030</text></g>
<g id="GS041" transform="rotate(409.61)"><line x1="171" x2="177"/><text x="178">GS041</text></g>
<g id="GS036" transform="rotate(412.44)"><line x1="171" x2="177"/><text x="178">GS036</text></g>
<g id="GS062" transform="rotate(415.28)"><line x1="171" x2="177"/><text x="178">GS062</text></g>
<g id="GS021" transform="rotate(418.11)"><line x1="171" x2="177"/><text x="178">GS021</text></g>
<g id="GS063" transform="rotate(420.94)"><line x1="171" x2="177"/><text x="178">GS063</text></g>
<g id="GS057" transform="rotate(423.78)"><line x1="171" x2="177"/><text x="178">GS057</text></g>
<g id="GS043" transform="rotate(426.61)"><line x1="171" x2="177"/><text x="178">GS043</text></g>
<g id="GS037" transform="rotate(429.45)"><line x1="171" x2="177"/><text x="178">GS037</text></g>
<g id="GS029" transform="rotate(432.28)"><line x1="171" x2="177"/><text x="178">GS029</text></g>
<g id="GS028" transform="rotate(435.12)"><line x1="171" x2="177"/><text x="178">GS028</text></g>
<g id="GS019" transform="rotate(437.95)"><line x1="171" x2="177"/><text x="178">GS019</text></g>
<g id="GS020" transform="rotate(440.79)"><line x1="171" x2="177"/><text x="178">GS020</text></g>
<g id="GS072" transform="rotate(443.62)"><line x1="171" x2="177"/><text x="178">GS072</text></g>
<g id="GS032" transform="rotate(446.46)"><line x1="171" x2="177"/><text x="178">GS032</text></g>
<g id="GS048" transform="rotate(449.29)"><line x1="171" x2="177"/><text x="178">GS048</text></g>
</g>
<g class="b L">
<g id="GS065" transform="rotate(452.13)"><line x1="171" x2="177"/><text transform="rotate(180)" x="-178">GS065</text></g>
<g id="GS066" transform="rotate(454.96)"><line x1="171" x2="177"/><text transform="rotate(180)" x="-178">GS066</text></g>
<g id="GS117" transform="rotate(457.8)"><line x1="171" x2="177"/><text transform="rotate(180)" x="-178">GS117</text></g>
<g id="GS055" transform="rotate(460.63)"><line x1="171" x2="177"/><text transform="rotate(180)" x="-178">GS055</text></g>
<g id="GS046" transform="rotate(463.46)"><line x1="171" x2="177"/><text transform="rotate(180)" x="-178">GS046</text></g>
<g id="GS010" transform="rotate(466.3)"><line x1="171" x2="177"/><text transform="rotate(180)" x="-178">GS010</text></g>
<g id="GS008" transform="rotate(469.13)"><line x1="171" x2="177"/><text transform="rotate(180)" x="-178">GS008</text></g>
<g id="GS007" transform="rotate(471.97)"><line x1="171" x2="177"/><text transform="rotate(180)" x="-178">GS007</text></g>
<g id="GS009" transform="rotate(474.8)"><line x1="171" x2="177"/><text transform="rotate(180)" x="-178">GS009</text></g>
<g id="GS053" transform="rotate(477.64)"><line x1="171" x2="177"/><text transform="rotate(180)" x="-178">GS053</text></g>
<g id="GS114" transform="rotate(480.47)"><line x1="171" x2="177"/><text transform="rotate(180)" x="-178">GS114</text></g>
<g id="GS074" transform="rotate(483.31)"><line x1="171" x2="177"/><text transform="rotate(180)" x="-178">GS074</text></g>
<g id="GS052" transform="rotate(486.14)"><line x1="171" x2="177"/><text transform="rotate(180)" x="-178">GS052</text></g>
<g id="GS070" transform="rotate(488.98)"><line x1="171" x2="177"/><text transform="rotate(180)" x="-178">GS070</text></g>
<g id="GS102" transform="rotate(491.81)"><line x1="171" x2="177"/><text transform="rotate(180)" x="-178">GS102</text></g>
<g id="GS106" transform="rotate(494.65)"><line x1="171" x2="177"/><text transform="rotate(180)" x="-178">GS106</text></g>
<g id="GS054" transform="rotate(497.48)"><line x1="171" x2="177"/><text transform="rotate(180)" x="-178">GS054</text></g>
<g id="GS116" transform="rotate(500.31)"><line x1="171" x2="177"/><text transform="rotate(180)" x="-178">GS116</text></g>
<g id="GS001" transform="rotate(503.15)"><line x1="171" x2="177"/><text transform="rotate(180)" x="-178">GS001</text></g>
<g id="GS002" transform="rotate(505.98)"><line x1="171" x2="177"/><text transform="rotate(180)" x="-178">GS002</text></g>
<g id="GS115" transform="rotate(508.82)"><line x1="171" x2="177"/><text transform="rotate(180)" x="-178">GS115</text></g>
<g id="GS119" transform="rotate(511.65)"><line x1="171" x2="177"/><text transform="rotate(180)" x="-178">GS119</text></g>
<g id="GS098" transform="rotate(514.49)"><line x1="171" x2="177"/><text transform="rotate(180)" x="-178">GS098</text></g>
<g id="GS110" transform="rotate(517.32)"><line x1="171" x2="177"/><text transform="rotate(180)" x="-178">GS110</text></g>
<g id="GS100" transform="rotate(520.16)"><line x1="171" x2="177"/><text transform="rotate(180)" x="-178">GS100</text></g>
<g id="GS104" transform="rotate(522.99)"><line x1="171" x2="177"/><text transform="rotate(180)" x="-178">GS104</text></g>
<g id="GS079" transform="rotate(525.83)"><line x1="171" x2="177"/><text transform="rotate(180)" x="-178">GS079</text></g>
<g id="GS071" transform="rotate(528.66)"><line x1="171" x2="177"/><text transform="rotate(180)" x="-178">GS071</text></g>
<g id="GS080" transform="rotate(531.5)"><line x1="171" x2="177"/><text transform="rotate(180)" x="-178">GS080</text></g>
<g id="GS073" transform="rotate(534.33)"><line x1="171" x2="177"/><text transform="rotate(180)" x="-178">GS073</text></g>
<g id="GS075" transform="rotate(537.17)"><line x1="171" x2="177"/><text transform="rotate(180)" x="-178">GS075</text></g>
</g>
</g>
</g>
<text class="cl" x="122" y="68">Cluster II</text>
<text class="cl" x="75" y="187">Cluster I</text>
<text class="cl" x="553" y="219">Cluster III</text>
<g id="scale" stroke="#333" stroke-width="1.2">
<line x1="101" y1="392" x2="157" y2="392"/>
<line x1="101" y1="387.5" x2="101" y2="396.5"/>
<line x1="157" y1="387.5" x2="157" y2="396.5"/>
<line x1="129" y1="392" x2="129" y2="395.5"/>
</g>
<text x="22" y="396" font-family="'Liberation Sans',Arial,sans-serif" font-size="12" fill="#333">Tree scale: 1</text>
</svg>
